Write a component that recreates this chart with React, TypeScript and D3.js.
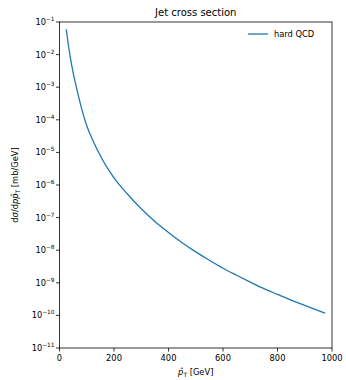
import React from "react";
import * as d3 from "d3";

const pT = [25, 30, 40, 50, 60, 75, 100, 125, 150, 175, 200, 250, 300, 350, 400, 450, 500, 550, 600, 650, 700, 750, 800, 850, 900, 950, 975];
const sigma = [6.0e-2, 2.8e-2, 7.9e-3, 2.8e-3, 1.17e-3, 3.5e-4, 6.6e-5, 2.1e-5, 7.9e-6, 3.4e-6, 1.66e-6, 5.2e-7, 1.86e-7, 7.6e-8, 3.5e-8, 1.7e-8, 8.9e-9, 4.9e-9, 2.8e-9, 1.7e-9, 1.05e-9, 6.6e-10, 4.4e-10, 2.95e-10, 2.04e-10, 1.41e-10, 1.17e-10];
const xTicks = [0, 200, 400, 600, 800, 1000];
const yExps = [-1, -2, -3, -4, -5, -6, -7, -8, -9, -10, -11];
const seriesName = "hard QCD";
const title = "Jet cross section";

export default function App() {
  const W = 346, H = 380;
  const left = 59.5, right = 332, top = 22, bottom = 348;
  const x = d3.scaleLinear().domain([0, 1000]).range([left, right]);
  const y = d3.scaleLog().domain([1e-11, 1e-1]).range([bottom, top]);
  const pts = pT.map((p, i) => [p, sigma[i]] as [number, number]);
  const line = d3.line<[number, number]>().x(d => x(d[0])).y(d => y(d[1])).curve(d3.curveMonotoneX);
  const font = "DejaVu Sans, sans-serif";
  const blue = "#1f77b4";
  return (
    <svg width={W} height={H} style={{ position: "absolute", left: 0, top: 0, background: "#fff" }} fontFamily={font}>
      <rect x={0} y={0} width={W} height={H} fill="#fff" />
      <path d={line(pts) || ""} fill="none" stroke={blue} strokeWidth={1.3} />
      <rect x={left} y={top} width={right - left} height={bottom - top} fill="none" stroke="#000" strokeWidth={0.8} />
      {xTicks.map(t => (
        <g key={t}>
          <line x1={x(t)} x2={x(t)} y1={bottom} y2={bottom + 3.5} stroke="#000" strokeWidth={0.8} />
          <text x={x(t)} y={bottom + 13} fontSize={8.3} textAnchor="middle" fill="#000">{t}</text>
        </g>
      ))}
      {yExps.map(e => (
        <g key={e}>
          <line x1={left - 3.5} x2={left} y1={y(Math.pow(10, e))} y2={y(Math.pow(10, e))} stroke="#000" strokeWidth={0.8} />
          <text x={left - 5} y={y(Math.pow(10, e)) + 3} fontSize={8.3} textAnchor="end" fill="#000">
            10<tspan dy={-4} fontSize={5.8}>{"\u2212" + Math.abs(e)}</tspan>
          </text>
        </g>
      ))}
      <text x={(left + right) / 2} y={15.5} fontSize={10} textAnchor="middle" fill="#000">{title}</text>
      <text x={(left + right) / 2} y={375} fontSize={8.3} textAnchor="middle" fill="#000">
        <tspan fontStyle="italic">p̂</tspan><tspan dy={2} fontSize={6}>T</tspan><tspan dy={-2}> [GeV]</tspan>
      </text>
      <text transform={`translate(17.5, ${(top + bottom) / 2}) rotate(-90)`} fontSize={8.3} textAnchor="middle" fill="#000">
        d<tspan fontStyle="italic">σ</tspan>/d<tspan fontStyle="italic">p</tspan><tspan fontStyle="italic">p̂</tspan><tspan dy={2} fontSize={6}>T</tspan><tspan dy={-2}> [mb/GeV]</tspan>
      </text>
      <line x1={248} x2={268} y1={34} y2={34} stroke={blue} strokeWidth={1.3} />
      <text x={274} y={37} fontSize={8.3} fill="#000">{seriesName}</text>
    </svg>
  );
}
